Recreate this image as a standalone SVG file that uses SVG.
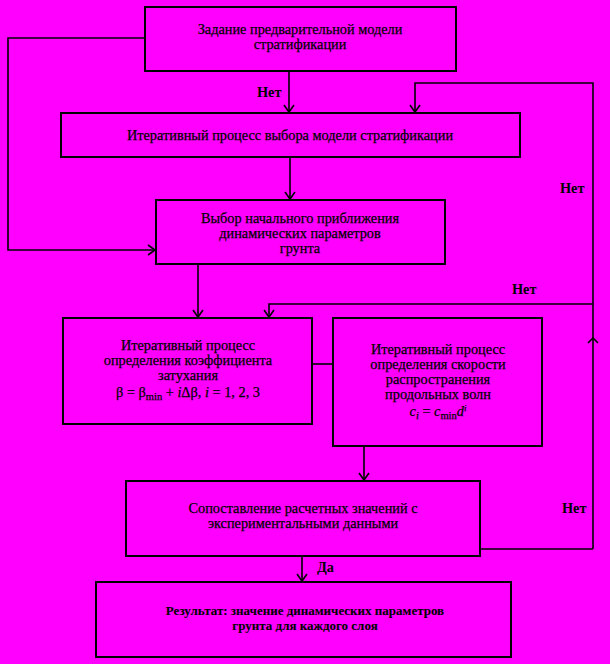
<svg xmlns="http://www.w3.org/2000/svg" width="610" height="664" viewBox="0 0 610 664">
<defs>
<style>
.box{fill:none;stroke:#000;stroke-width:2}
.ln{fill:none;stroke:#000;stroke-width:1.6}
.t{font-family:"Liberation Serif","Times New Roman",serif;font-size:14.3px;fill:#000;stroke:#000;stroke-width:0.25;text-anchor:middle}
.b{font-weight:bold;stroke-width:0.1;font-size:13px}
.lab{font-family:"Liberation Serif","Times New Roman",serif;font-size:14.3px;fill:#000;font-weight:bold}
</style>
<marker id="ah" viewBox="-10 -6 12 12" refX="0" refY="0" markerWidth="12" markerHeight="12" markerUnits="userSpaceOnUse" orient="auto">
<path d="M-7,-5 L0,0 L-7,5" fill="none" stroke="#000" stroke-width="1.6"/>
</marker>
</defs>
<rect width="610" height="664" fill="#FF00FF"/>
<g id="connectors">
<path class="ln" d="M145,38 H8 V250 H155" marker-end="url(#ah)"/>
<path class="ln" d="M289,71 V112" marker-end="url(#ah)"/>
<path class="ln" d="M593,549 V83 H415 V112" marker-end="url(#ah)"/>
<path class="ln" d="M290,157 V199" marker-end="url(#ah)"/>
<path class="ln" d="M198,264 V317" marker-end="url(#ah)"/>
<path class="ln" d="M593,304 H269 V317" marker-end="url(#ah)"/>
<path class="ln" d="M588,343 L593,338 L598,343"/>
<path class="ln" d="M312,364 H333"/>
<path class="ln" d="M364,446 V480" stroke-width="1.2" marker-end="url(#ah)"/>
<path class="ln" d="M480,549 H593"/>
<path class="ln" d="M302,556 V581" marker-end="url(#ah)"/>
<text class="lab" x="257" y="97">Нет</text>
<text class="lab" x="560" y="193">Нет</text>
<text class="lab" x="512" y="294">Нет</text>
<text class="lab" x="562" y="513">Нет</text>
<text class="lab" x="317" y="572">Да</text>
</g>
<g id="n1">
<rect class="box" x="145" y="7" width="311" height="64"/>
<text class="t" x="300" y="34">Задание предварительной модели</text>
<text class="t" x="300" y="49">стратификации</text>
</g>
<g id="n2">
<rect class="box" x="61" y="113" width="459" height="44"/>
<text class="t" x="290" y="140">Итеративный процесс выбора модели стратификации</text>
</g>
<g id="n3">
<rect class="box" x="156" y="200" width="289" height="64"/>
<text class="t" x="300" y="223">Выбор начального приближения</text>
<text class="t" x="300" y="238">динамических параметров</text>
<text class="t" x="300" y="253">грунта</text>
</g>
<g id="n4">
<rect class="box" x="63" y="318" width="249" height="106"/>
<text class="t" x="188" y="350">Итеративный процесс</text>
<text class="t" x="188" y="365">определения коэффициента</text>
<text class="t" x="188" y="380">затухания</text>
<text class="t" x="188" y="397">β = β<tspan font-size="10.5" dy="3">min</tspan><tspan dy="-3"> + </tspan><tspan font-style="italic">i</tspan>Δβ, <tspan font-style="italic">i</tspan> = 1, 2, 3</text>
</g>
<g id="n5">
<rect class="box" x="333" y="318" width="209" height="128"/>
<text class="t" x="438" y="354">Итеративный процесс</text>
<text class="t" x="438" y="369">определения скорости</text>
<text class="t" x="438" y="384">распространения</text>
<text class="t" x="438" y="399">продольных волн</text>
<text class="t" x="438" y="416"><tspan font-style="italic">c</tspan><tspan font-style="italic" font-size="10.5" dy="3">i</tspan><tspan dy="-3"> = </tspan><tspan font-style="italic">c</tspan><tspan font-size="10.5" dy="3">min</tspan><tspan font-style="italic" dy="-3">d</tspan><tspan font-style="italic" font-size="9" dy="-5">i</tspan></text>
</g>
<g id="n6">
<rect class="box" x="126" y="481" width="354" height="75"/>
<text class="t" x="303" y="513">Сопоставление расчетных значений с</text>
<text class="t" x="303" y="528">экспериментальными данными</text>
</g>
<g id="n7">
<rect class="box" x="96" y="582" width="415" height="75"/>
<text class="t b" x="305" y="615">Результат: значение динамических параметров</text>
<text class="t b" x="305" y="630">грунта для каждого слоя</text>
</g>
</svg>
